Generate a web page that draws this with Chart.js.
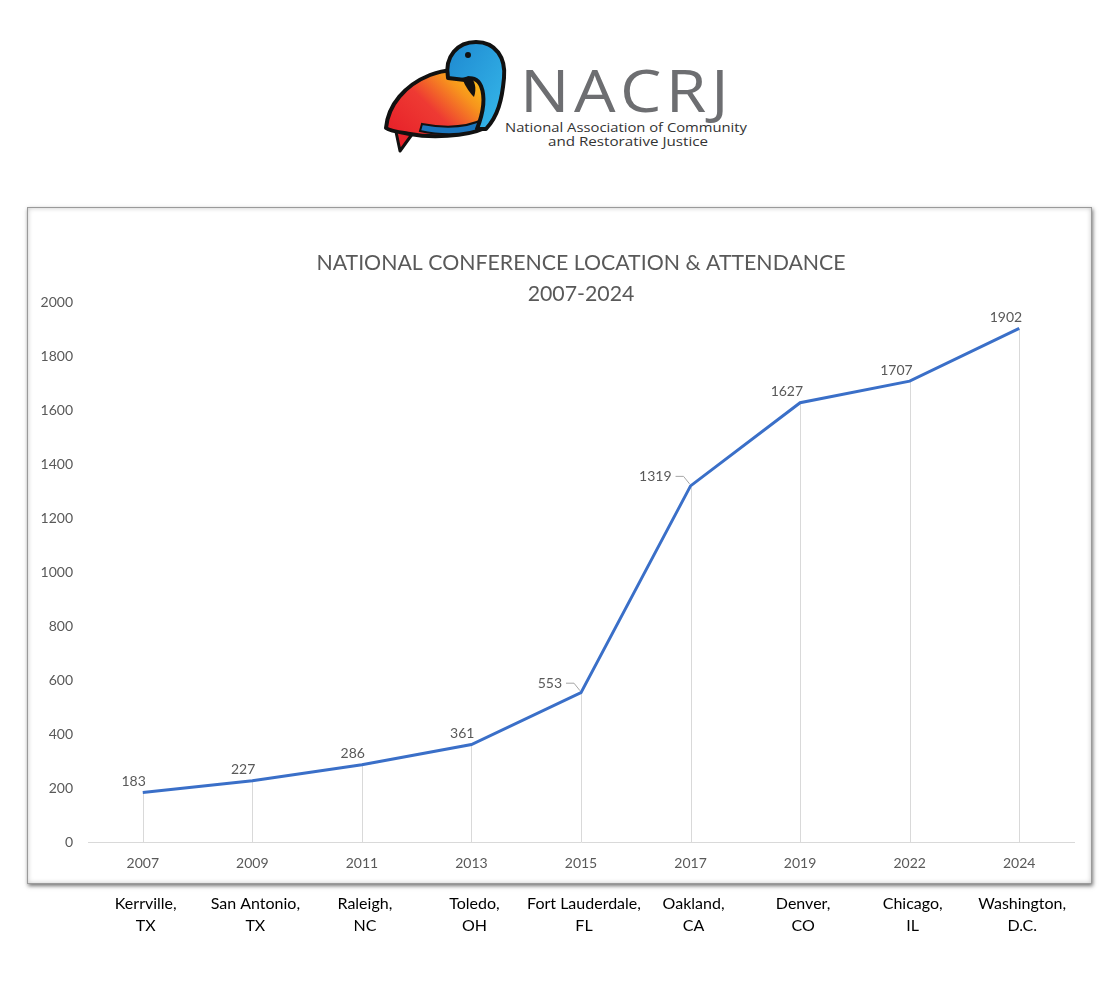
<!DOCTYPE html>
<html><head><meta charset="utf-8">
<script src="https://cdn.jsdelivr.net/npm/chart.js@4"></script>
<style>
html,body{margin:0;padding:0;background:#fff;}
body{width:1118px;height:982px;position:relative;overflow:hidden;font-family:Lato,"Open Sans",sans-serif;}
#logo{position:absolute;left:0;top:0;}
#box{position:absolute;left:27px;top:207px;width:1063px;height:675px;border:1px solid #9a9a9a;box-shadow:1px 2px 4px rgba(0,0,0,.55), inset 0 0 5px rgba(0,0,0,.22);background:#fff;}
#wrap{position:absolute;left:0;top:200px;width:1118px;height:760px;}
</style></head>
<body>
<svg id="logo" width="1118" height="190" viewBox="0 0 1118 190">
  <defs>
    <linearGradient id="bodyG" x1="0" y1="0.8" x2="1" y2="0.2">
      <stop offset="0" stop-color="#e8232a"/>
      <stop offset="0.4" stop-color="#ee3a33"/>
      <stop offset="0.7" stop-color="#f7941d"/>
      <stop offset="1" stop-color="#fcd116"/>
    </linearGradient>
    <linearGradient id="blueG" x1="0" y1="0" x2="1" y2="1">
      <stop offset="0" stop-color="#1e88d0"/>
      <stop offset="1" stop-color="#36b9ea"/>
    </linearGradient>
  </defs>
  <path d="M395 127 L413 133 L400 151 Z" fill="#e8232a" stroke="#111" stroke-width="3" stroke-linejoin="round"/>
  <path d="M386 128 C388 105 405 85 430 75 C448 68 462 70 472 76 L492 84 C500 98 499 116 485 128 C465 137 430 138 410 134 C398 132 390 131 386 128 Z" fill="url(#bodyG)" stroke="#111" stroke-width="4" stroke-linejoin="round"/>
  <path d="M420 131 C448 137 470 134 486 127 L484 119 C468 127 448 129 422 124 Z" fill="#1b75bc" stroke="#111" stroke-width="2"/>
  <path d="M448 78 C444 56 458 42 476 42 C496 42 506 58 504 78 C502 100 498 116 486 129 L477 129 C484 111 485 96 481 86 C478 79 471 76 465 80 Z" fill="url(#blueG)" stroke="#111" stroke-width="4" stroke-linejoin="round"/>
  <path d="M462 78 C466 88 470 93 474 97 C477 88 475 80 469 76 Z" fill="#111"/>
  <circle cx="468" cy="55" r="3" fill="#111"/>
  <text x="520" y="112" font-family="'Open Sans',Lato,sans-serif" font-weight="400" font-size="59" fill="#6d6e71" letter-spacing="4" textLength="213" lengthAdjust="spacingAndGlyphs">NACRJ</text>
  <text x="505" y="132" font-family="'Open Sans',Lato,sans-serif" font-size="12.5" fill="#333" textLength="242" lengthAdjust="spacingAndGlyphs">National Association of Community</text>
  <text x="548" y="146" font-family="'Open Sans',Lato,sans-serif" font-size="12.5" fill="#333" textLength="160" lengthAdjust="spacingAndGlyphs">and Restorative Justice</text>
</svg>
<div id="box"></div>
<div id="wrap"><canvas id="c"></canvas></div>
<script>
const years = ['2007','2009','2011','2013','2015','2017','2019','2022','2024'];
const attendance = [183, 227, 286, 361, 553, 1319, 1627, 1707, 1902];
const cities = [
  ['Kerrville,','TX'],
  ['San Antonio,','TX'],
  ['Raleigh,','NC'],
  ['Toledo,','OH'],
  ['Fort Lauderdale,','FL'],
  ['Oakland,','CA'],
  ['Denver,','CO'],
  ['Chicago,','IL'],
  ['Washington,','D.C.']
];
const titleLines = ['NATIONAL CONFERENCE LOCATION & ATTENDANCE', '2007-2024'];
const yMin = 0, yMax = 2000, yStep = 200;
const calloutIdx = [4, 5];

const FONT = 'Lato, "Open Sans", sans-serif';
const GRAY = '#595959';

const dropLines = {
  id: 'dropLines',
  beforeDatasetsDraw(chart) {
    const ctx = chart.ctx, meta = chart.getDatasetMeta(0), y0 = chart.scales.y.getPixelForValue(0);
    ctx.save();
    ctx.strokeStyle = '#d9d9d9'; ctx.lineWidth = 1;
    meta.data.forEach(p => {
      const x = Math.round(p.x) + 0.5;
      ctx.beginPath(); ctx.moveTo(x, y0); ctx.lineTo(x, p.y); ctx.stroke();
    });
    ctx.restore();
  }
};

const dataLabels = {
  id: 'dataLabels',
  afterDatasetsDraw(chart) {
    const ctx = chart.ctx, meta = chart.getDatasetMeta(0);
    ctx.save();
    ctx.font = '14px ' + FONT; ctx.fillStyle = GRAY; ctx.textBaseline = 'middle'; ctx.textAlign = 'right';
    meta.data.forEach((p, i) => {
      const v = String(attendance[i]);
      if (calloutIdx.includes(i)) {
        ctx.fillText(v, p.x - 19, p.y - 9);
        ctx.strokeStyle = '#a6a6a6'; ctx.lineWidth = 1;
        ctx.beginPath();
        ctx.moveTo(p.x - 15, p.y - 9.5); ctx.lineTo(p.x - 7, p.y - 9.5); ctx.lineTo(p.x - 1, p.y - 2);
        ctx.stroke();
      } else {
        ctx.fillText(v, p.x + 3, p.y - 11);
      }
    });
    ctx.restore();
  }
};

const extraText = {
  id: 'extraText',
  afterDraw(chart) {
    const ctx = chart.ctx, ca = chart.chartArea, xs = chart.scales.x;
    ctx.save();
    ctx.textAlign = 'center'; ctx.textBaseline = 'middle';
    ctx.fillStyle = GRAY; ctx.font = '21.3px ' + FONT;
    const cx = (ca.left + ca.right) / 2;
    ctx.fillText(titleLines[0], cx, ca.top - 39);
    ctx.fillText(titleLines[1], cx, ca.top - 8);
    ctx.fillStyle = '#000'; ctx.font = '16px ' + FONT;
    cities.forEach((lines, i) => {
      const x = xs.getPixelForValue(i) + 3;
      lines.forEach((t, j) => ctx.fillText(t, x, ca.bottom + 62 + j * 22));
    });
    ctx.restore();
  }
};

new Chart(document.getElementById('c'), {
  type: 'line',
  data: {
    labels: years,
    datasets: [{
      data: attendance,
      borderColor: '#3A6FC8',
      borderWidth: 3,
      pointRadius: 0,
      pointHoverRadius: 0,
      tension: 0,
      fill: false,
      clip: false
    }]
  },
  options: {
    responsive: true,
    maintainAspectRatio: false,
    animation: false,
    layout: { padding: { left: 28, right: 44, top: 102, bottom: 76 } },
    plugins: { legend: { display: false }, tooltip: { enabled: false }, title: { display: false } },
    scales: {
      x: {
        offset: true,
        grid: { display: false, drawTicks: false },
        border: { display: true, color: '#d9d9d9', width: 1 },
        ticks: { color: GRAY, font: { family: FONT, size: 14 }, padding: 13, maxRotation: 0, autoSkip: false },
        afterFit(s) { s.height = 42; }
      },
      y: {
        min: yMin, max: yMax,
        grid: { display: false, drawTicks: false },
        border: { display: false },
        ticks: { stepSize: yStep, color: GRAY, font: { family: FONT, size: 14 }, padding: 15, callback: v => String(v) },
        afterFit(s) { s.width = 60; }
      }
    }
  },
  plugins: [dropLines, dataLabels, extraText]
});
</script>
</body></html>
